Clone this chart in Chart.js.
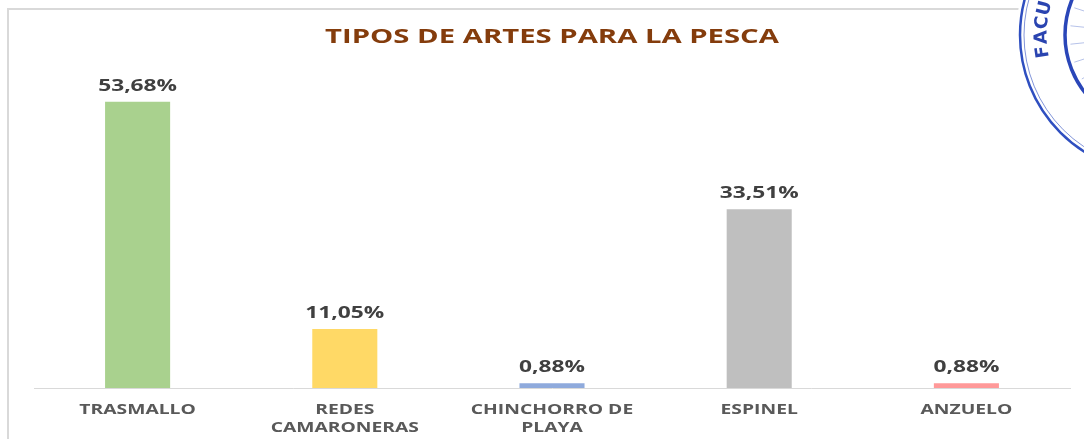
<!DOCTYPE html>
<html>
<head>
<meta charset="utf-8">
<script src="https://cdn.jsdelivr.net/npm/chart.js@4/dist/chart.umd.min.js"></script>
<style>
  html, body { margin: 0; padding: 0; background: #ffffff; }
  #wrap { width: 1084px; height: 439px; position: relative; }
</style>
</head>
<body>
<div id="wrap"><canvas id="c" width="1084" height="439"></canvas></div>
<script>
const categories = ["TRASMALLO", ["REDES", "CAMARONERAS"], ["CHINCHORRO DE", "PLAYA"], "ESPINEL", "ANZUELO"];
const values = [53.68, 11.05, 0.88, 33.51, 0.88];
const barColors = ["#a9d18e", "#ffd966", "#8faadc", "#bfbfbf", "#ff9999"];
const titleText = "TIPOS DE ARTES PARA LA PESCA";

const FONT = "'Open Sans', 'DejaVu Sans', sans-serif";

// draws text horizontally stretched (the reference picture is widened)
function stretchText(ctx, text, x, y, sx) {
  ctx.save();
  ctx.translate(x, y);
  ctx.scale(sx, 1);
  ctx.fillText(text, 0, 0);
  ctx.restore();
}

const framePlugin = {
  id: 'frame',
  beforeDraw(chart) {
    const ctx = chart.ctx;
    ctx.save();
    ctx.fillStyle = '#ffffff';
    ctx.fillRect(0, 0, chart.width, chart.height);
    ctx.strokeStyle = '#d9d9d9';
    ctx.lineWidth = 2;
    ctx.beginPath();
    ctx.moveTo(8, chart.height + 2);
    ctx.lineTo(8, 9);
    ctx.lineTo(chart.width + 2, 9);
    ctx.stroke();
    ctx.restore();
  },
  afterDraw(chart) {
    const ctx = chart.ctx;
    const area = chart.chartArea;
    ctx.save();
    // title
    ctx.fillStyle = '#843c0c';
    ctx.font = "bold 19px " + FONT;
    ctx.textAlign = 'center';
    ctx.textBaseline = 'alphabetic';
    stretchText(ctx, titleText, (area.left + area.right) / 2, 43, 1.54);

    // category labels
    const xs = chart.scales.x;
    ctx.fillStyle = '#595959';
    ctx.font = "bold 14.5px " + FONT;
    chart.data.labels.forEach((lab, i) => {
      const lines = Array.isArray(lab) ? lab : [lab];
      const x = xs.getPixelForValue(i);
      lines.forEach((ln, j) => {
        stretchText(ctx, ln, x, area.bottom + 26 + j * 18, 1.33);
      });
    });

    // stamp fragment in the top-right corner
    const cx = 1158, cy = 35;
    ctx.fillStyle = '#ffffff';
    ctx.beginPath();
    ctx.arc(cx, cy, 142, 0, Math.PI * 2);
    ctx.fill();
    ctx.strokeStyle = '#2f4fc0';
    ctx.lineWidth = 2.5;
    ctx.beginPath();
    ctx.arc(cx, cy, 138, 0, Math.PI * 2);
    ctx.stroke();
    ctx.lineWidth = 1;
    ctx.strokeStyle = 'rgba(47,79,192,0.6)';
    ctx.beginPath();
    ctx.arc(cx, cy, 134, 0, Math.PI * 2);
    ctx.stroke();
    ctx.strokeStyle = '#2a46b8';
    ctx.lineWidth = 3.5;
    ctx.beginPath();
    ctx.arc(cx, cy, 93, 0, Math.PI * 2);
    ctx.stroke();
    ctx.lineWidth = 1;
    ctx.strokeStyle = 'rgba(47,79,192,0.35)';
    for (let a = 150; a <= 215; a += 12) {
      const t = a * Math.PI / 180;
      ctx.beginPath();
      ctx.moveTo(cx + 88 * Math.cos(t), cy + 88 * Math.sin(t));
      ctx.lineTo(cx + 40 * Math.cos(t), cy + 40 * Math.sin(t));
      ctx.stroke();
    }
    ctx.fillStyle = '#2a44b0';
    ctx.font = "bold 18px 'DejaVu Sans', sans-serif";
    ctx.textAlign = 'center';
    ctx.textBaseline = 'middle';
    const word = "FACU";
    const startDeg = 171.7, stepDeg = 7.2;
    for (let i = 0; i < word.length; i++) {
      const t = (startDeg + i * stepDeg) * Math.PI / 180;
      const r = 116;
      ctx.save();
      ctx.translate(cx + r * Math.cos(t), cy + r * Math.sin(t));
      ctx.rotate(t + Math.PI / 2);
      ctx.fillText(word[i], 0, 0);
      ctx.restore();
    }
    ctx.restore();
  }
};

const labelPlugin = {
  id: 'valueLabels',
  afterDatasetsDraw(chart) {
    const ctx = chart.ctx;
    const meta = chart.getDatasetMeta(0);
    ctx.save();
    ctx.font = "bold 16px " + FONT;
    ctx.fillStyle = '#404040';
    ctx.textAlign = 'center';
    ctx.textBaseline = 'alphabetic';
    meta.data.forEach((bar, i) => {
      const txt = values[i].toFixed(2).replace('.', ',') + '%';
      stretchText(ctx, txt, bar.x, bar.y - 11, 1.42);
    });
    ctx.restore();
  }
};

new Chart(document.getElementById('c'), {
  type: 'bar',
  data: {
    labels: categories,
    datasets: [{
      data: values,
      backgroundColor: barColors,
      borderWidth: 0,
      categoryPercentage: 1.0,
      barPercentage: 0.314
    }]
  },
  options: {
    responsive: false,
    animation: false,
    devicePixelRatio: 1,
    layout: { padding: { left: 34, right: 14, top: 68, bottom: 51 } },
    plugins: {
      legend: { display: false },
      tooltip: { enabled: false },
      title: { display: false }
    },
    scales: {
      x: {
        grid: { display: false, drawTicks: false },
        border: { display: true, color: '#d9d9d9', width: 1 },
        ticks: { display: false }
      },
      y: {
        display: false,
        min: 0,
        max: 60
      }
    }
  },
  plugins: [framePlugin, labelPlugin]
});
</script>
</body>
</html>
